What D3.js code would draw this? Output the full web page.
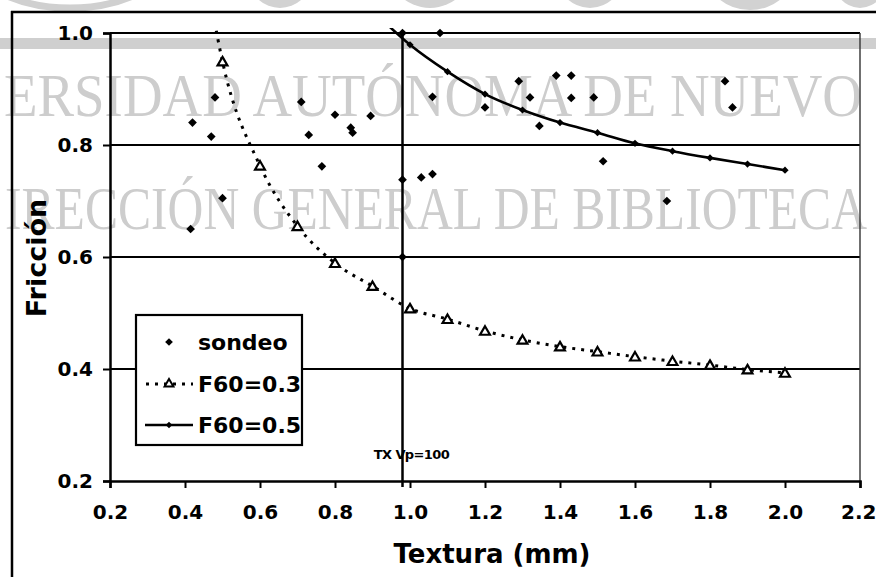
<!DOCTYPE html>
<html>
<head>
<meta charset="utf-8">
<script src="https://cdn.jsdelivr.net/npm/d3@7"></script>
<style>
  html, body { margin: 0; padding: 0; background: #fff; }
  svg { display: block; }
  text { font-family: "DejaVu Sans", "Liberation Sans", Arial, sans-serif; font-weight: bold; fill: #000; }
  .wm { font-family: "Liberation Serif", "DejaVu Serif", serif; font-weight: normal; fill: #cdcdcd; }
</style>
</head>
<body>
<svg id="chart" width="876" height="577"></svg>
<script>
// Axis ticks
const xTicks = [0.2, 0.4, 0.6, 0.8, 1.0, 1.2, 1.4, 1.6, 1.8, 2.0, 2.2];
const yTicks = [0.2, 0.4, 0.6, 0.8, 1.0];
const yGrid = [0.4, 0.6, 0.8, 1.0];

// Field survey points (texture mm, friction)
const sondeoX = [0.42, 0.48, 0.47, 0.50, 0.415, 0.71, 0.73, 0.80, 0.842, 0.847, 0.895, 0.765,
                 0.98, 1.03, 1.06, 0.98, 0.98, 1.08, 1.06, 1.29, 1.32, 1.20, 1.345, 1.39,
                 1.43, 1.43, 1.49, 1.515, 1.685, 1.84, 1.86];
const sondeoY = [0.84, 0.885, 0.815, 0.705, 0.65, 0.877, 0.818, 0.854, 0.831, 0.822, 0.852, 0.762,
                 0.738, 0.742, 0.748, 0.60, 1.00, 1.00, 0.886, 0.914, 0.885, 0.867, 0.834, 0.924,
                 0.924, 0.884, 0.885, 0.771, 0.70, 0.914, 0.867];

// Curve F60 = 0.3
const f03X = [0.4, 0.5, 0.6, 0.7, 0.8, 0.9, 1.0, 1.1, 1.2, 1.3, 1.4, 1.5, 1.6, 1.7, 1.8, 1.9, 2.0];
const f03Y = [1.37, 0.949, 0.763, 0.655, 0.589, 0.548, 0.508, 0.489, 0.468, 0.452, 0.440, 0.431,
              0.422, 0.414, 0.407, 0.399, 0.393];

// Curve F60 = 0.5
const f05X = [0.9, 1.0, 1.1, 1.2, 1.3, 1.4, 1.5, 1.6, 1.7, 1.8, 1.9, 2.0];
const f05Y = [1.04, 0.979, 0.931, 0.891, 0.8625, 0.840, 0.822, 0.803, 0.789, 0.777, 0.766, 0.755];

// Reference texture line
const refTx = 0.98;
const refLabel = "TX Vp=100";

const legendLabels = ["sondeo", "F60=0.3", "F60=0.5"];

const svg = d3.select("#chart");
const W = 876, H = 577;
const plot = { left: 110, right: 860, top: 33, bottom: 481 };

const x = d3.scaleLinear().domain([0.2, 2.2]).range([plot.left, plot.right]);
const y = d3.scaleLinear().domain([0.2, 1.0]).range([plot.bottom, plot.top]);

// ---- library stamp in the background ----
const bg = svg.append("g");
bg.append("rect").attr("x", 0).attr("y", 38).attr("width", W).attr("height", 11).attr("fill", "#cfcfcf");
[[70, -60, 110, 68], [280, -20, 30, 28], [430, -40, 45, 48], [590, -30, 35, 38], [750, -30, 45, 40], [860, -30, 30, 38]]
  .forEach(([cx, cy, rx, ry], i) => {
    bg.append("ellipse").attr("cx", cx).attr("cy", cy).attr("rx", rx).attr("ry", ry)
      .attr("fill", i === 0 ? "none" : "#d2d2d2")
      .attr("stroke", "#d0d0d0").attr("stroke-width", i === 0 ? 7 : 0);
  });
bg.append("text").attr("class", "wm").attr("transform", "translate(4,116) scale(1,1.15)")
  .attr("font-size", 54).attr("textLength", 858).attr("lengthAdjust", "spacingAndGlyphs")
  .text("ERSIDAD AUTÓNOMA DE NUEVO");
bg.append("text").attr("class", "wm").attr("transform", "translate(5,229) scale(1,1.25)")
  .attr("font-size", 49).attr("textLength", 862).attr("lengthAdjust", "spacingAndGlyphs")
  .text("IRECCIÓN GENERAL DE BIBLIOTECA");

// ---- outer frame ----
svg.append("line").attr("x1", 11).attr("x2", W).attr("y1", 12).attr("y2", 12)
  .attr("stroke", "#000").attr("stroke-width", 2.5);
svg.append("line").attr("x1", 12).attr("x2", 12).attr("y1", 11).attr("y2", H)
  .attr("stroke", "#000").attr("stroke-width", 2.5);

// ---- gridlines ----
svg.append("g").selectAll("line").data(yGrid).join("line")
  .attr("x1", plot.left).attr("x2", plot.right)
  .attr("y1", d => y(d)).attr("y2", d => y(d))
  .attr("stroke", "#000").attr("stroke-width", 2.2);

// right edge of plot area
svg.append("line").attr("x1", plot.right).attr("x2", plot.right)
  .attr("y1", plot.top).attr("y2", plot.bottom)
  .attr("stroke", "#333").attr("stroke-width", 1.4);

// reference texture line
svg.append("line").attr("x1", x(refTx)).attr("x2", x(refTx))
  .attr("y1", plot.top).attr("y2", plot.bottom + 6)
  .attr("stroke", "#000").attr("stroke-width", 2.5);
svg.append("text").attr("x", x(refTx) + 9).attr("y", 459)
  .attr("text-anchor", "middle").attr("font-size", 13).attr("letter-spacing", -0.6)
  .text(refLabel);

// ---- axes ----
const xAxis = d3.axisBottom(x).tickValues(xTicks).tickSize(7).tickPadding(17)
  .tickFormat(d3.format(".1f"));
const gx = svg.append("g").attr("transform", `translate(0,${plot.bottom})`).call(xAxis);
gx.select(".domain").attr("stroke", "#000").attr("stroke-width", 2.5);
gx.selectAll(".tick line").attr("stroke", "#000").attr("stroke-width", 2);
gx.selectAll(".tick text").attr("font-size", 20).attr("font-family", "DejaVu Sans").attr("font-weight", "bold").attr("fill", "#000");
// last label sits against the right edge
gx.selectAll(".tick text").filter(d => d === 2.2).attr("text-anchor", "end").attr("dx", 16);

const yAxis = d3.axisLeft(y).tickValues(yTicks).tickSize(7).tickPadding(10)
  .tickFormat(d3.format(".1f"));
const gy = svg.append("g").attr("transform", `translate(${plot.left},0)`).call(yAxis);
gy.select(".domain").attr("stroke", "#000").attr("stroke-width", 2.5);
gy.selectAll(".tick line").attr("stroke", "#000").attr("stroke-width", 2);
gy.selectAll(".tick text").attr("font-size", 20).attr("font-family", "DejaVu Sans").attr("font-weight", "bold").attr("fill", "#000");

// axis titles
svg.append("text").attr("x", 492).attr("y", 563).attr("text-anchor", "middle")
  .attr("font-size", 26).text("Textura (mm)");
svg.append("text").attr("transform", "translate(46,258) rotate(-90)").attr("text-anchor", "middle")
  .attr("font-size", 27).text("Fricción");

// ---- series ----
svg.append("defs").append("clipPath").attr("id", "clip")
  .append("rect").attr("x", plot.left).attr("y", plot.top - 5)
  .attr("width", plot.right - plot.left).attr("height", plot.bottom - plot.top + 5);

const line = d3.line().x(d => x(d[0])).y(d => y(d[1])).curve(d3.curveMonotoneX);
const f03 = f03X.map((v, i) => [v, f03Y[i]]);
const f05 = f05X.map((v, i) => [v, f05Y[i]]);

const series = svg.append("g").attr("clip-path", "url(#clip)");
series.append("path").datum(f03).attr("d", line)
  .attr("fill", "none").attr("stroke", "#000").attr("stroke-width", 3)
  .attr("stroke-dasharray", "3,6");
series.append("path").datum(f05).attr("d", line)
  .attr("fill", "none").attr("stroke", "#000").attr("stroke-width", 2.6);

const diamond = d3.symbol().type(d3.symbolSquare);
const tri = d3.symbol().type(d3.symbolTriangle).size(42);

// F60=0.5 markers
svg.append("g").selectAll("path").data(f05.filter(d => d[1] <= 1.0)).join("path")
  .attr("d", diamond.size(26)())
  .attr("transform", d => `translate(${x(d[0])},${y(d[1])}) rotate(45)`)
  .attr("fill", "#000");

// F60=0.3 markers
svg.append("g").selectAll("path").data(f03.filter(d => d[1] <= 1.0)).join("path")
  .attr("d", tri())
  .attr("transform", d => `translate(${x(d[0])},${y(d[1]) + 1})`)
  .attr("fill", "#fff").attr("stroke", "#000").attr("stroke-width", 2.2);

// survey points
svg.append("g").selectAll("path").data(sondeoX.map((v, i) => [v, sondeoY[i]])).join("path")
  .attr("d", d3.symbol().type(d3.symbolSquare).size(38)())
  .attr("transform", d => `translate(${x(d[0])},${y(d[1])}) rotate(45)`)
  .attr("fill", "#000");

// ---- legend ----
const lg = svg.append("g");
lg.append("rect").attr("x", 136).attr("y", 315).attr("width", 166).attr("height", 130)
  .attr("fill", "#fff").attr("stroke", "#000").attr("stroke-width", 2.2);
const rows = [342, 384, 425];
lg.append("path").attr("d", d3.symbol().type(d3.symbolSquare).size(30)())
  .attr("transform", `translate(169,${rows[0]}) rotate(45)`).attr("fill", "#000");
lg.append("line").attr("x1", 146).attr("x2", 193).attr("y1", rows[1]).attr("y2", rows[1])
  .attr("stroke", "#000").attr("stroke-width", 3).attr("stroke-dasharray", "3,6");
lg.append("path").attr("d", d3.symbol().type(d3.symbolTriangle).size(34)())
  .attr("transform", `translate(169,${rows[1]})`)
  .attr("fill", "#fff").attr("stroke", "#000").attr("stroke-width", 2);
lg.append("line").attr("x1", 145).attr("x2", 193).attr("y1", rows[2]).attr("y2", rows[2])
  .attr("stroke", "#000").attr("stroke-width", 2.6);
lg.append("path").attr("d", d3.symbol().type(d3.symbolSquare).size(22)())
  .attr("transform", `translate(169,${rows[2]}) rotate(45)`).attr("fill", "#000");
lg.selectAll("text.lbl").data(legendLabels).join("text").attr("class", "lbl")
  .attr("x", 198).attr("y", (d, i) => rows[i] + 8)
  .attr("font-size", 22).text(d => d);
</script>
</body>
</html>
